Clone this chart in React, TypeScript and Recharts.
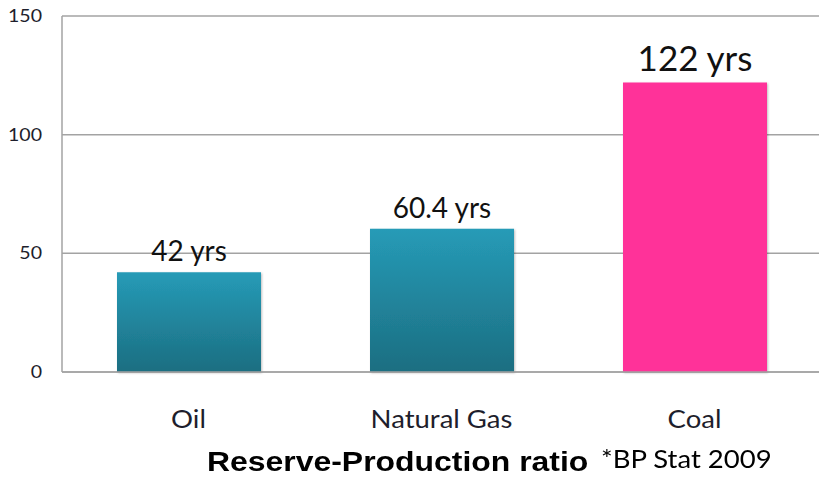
import { BarChart, Bar, XAxis, YAxis, CartesianGrid, Cell, LabelList } from 'recharts'

// ─── Datos ────────────────────────────────────────────────────────────────────

const FUELS = ['Oil', 'Natural Gas', 'Coal']
const RP_YEARS = [42, 60.4, 122]
const BAR_LABELS = ['42 yrs', '60.4 yrs', '122 yrs']
const Y_TICKS = [0, 50, 100, 150]

const data = FUELS.map((f, i) => ({ fuel: f, years: RP_YEARS[i], label: BAR_LABELS[i] }))

// ─── Estilos ──────────────────────────────────────────────────────────────────

const GRID = '#a3a3a3'
const TEXT = '#1e1e2c'
const SANS = 'Lato, "Open Sans", sans-serif'
const LABEL_SIZE = [28, 28, 35]

function BarLabel(props: any) {
  const { x, y, width, index, value } = props
  return (
    <text
      x={x + width / 2}
      y={y - 11}
      textAnchor="middle"
      fontFamily={SANS}
      fontSize={LABEL_SIZE[index]}
      fill="#111"
    >
      {value}
    </text>
  )
}

// ticks un poco estirados en horizontal, como en la imagen original
function YTick({ x, y, payload }: any) {
  return (
    <text
      transform={`translate(${x},${y}) scale(1.15,1)`}
      textAnchor="end"
      dy="0.36em"
      fontFamily={SANS}
      fontSize={17}
      fill={TEXT}
    >
      {payload.value}
    </text>
  )
}

function XTick({ x, y, payload }: any) {
  return (
    <text
      transform={`translate(${x},${y + 56}) scale(1.1,1)`}
      textAnchor="middle"
      fontFamily={SANS}
      fontSize={25}
      fill={TEXT}
    >
      {payload.value}
    </text>
  )
}

export default function App() {
  return (
    <div style={{ position: 'absolute', left: 0, top: 0, width: 819, height: 477, overflow: 'hidden', background: '#fff' }}>
      <BarChart
        width={821}
        height={440}
        data={data}
        margin={{ top: 16, right: 0, left: 0, bottom: 0 }}
        barSize={144}
      >
        <defs>
          <linearGradient id="teal" x1="0" y1="0" x2="0" y2="1">
            <stop offset="0%" stopColor="#269bb7" />
            <stop offset="100%" stopColor="#1c6e81" />
          </linearGradient>
          <filter id="shadow" x="-5%" y="-5%" width="110%" height="110%">
            <feDropShadow dx="1" dy="1" stdDeviation="1.2" floodColor="#000" floodOpacity="0.25" />
          </filter>
        </defs>
        <CartesianGrid vertical={false} stroke={GRID} strokeWidth={1.5} />
        <XAxis
          dataKey="fuel"
          height={68}
          axisLine={{ stroke: GRID, strokeWidth: 1.5 }}
          tickLine={false}
          tickSize={0}
          tickMargin={0}
          tick={<XTick />}
        />
        <YAxis
          width={62}
          domain={[0, 150]}
          ticks={Y_TICKS}
          axisLine={{ stroke: GRID, strokeWidth: 1.5 }}
          tickLine={false}
          tickSize={0}
          tickMargin={20}
          tick={<YTick />}
        />
        <Bar dataKey="years" isAnimationActive={false} filter="url(#shadow)">
          {data.map((d, i) => (
            <Cell key={d.fuel} fill={i === 2 ? '#ff3399' : 'url(#teal)'} />
          ))}
          <LabelList dataKey="label" content={<BarLabel />} />
        </Bar>
      </BarChart>

      <div
        style={{
          position: 'absolute', left: 207, top: 446,
          fontFamily: '"Liberation Sans", Arial, sans-serif', fontWeight: 700, fontSize: 28,
          color: '#000', whiteSpace: 'nowrap', lineHeight: '32px',
          transform: 'scaleX(1.14)', transformOrigin: 'left center',
        }}
      >
        Reserve-Production ratio
      </div>
      <div
        style={{
          position: 'absolute', left: 601, top: 443,
          fontFamily: SANS, fontSize: 25, color: '#000', whiteSpace: 'nowrap', lineHeight: '30px',
          transform: 'scaleX(1.1)', transformOrigin: 'left center',
        }}
      >
        *BP Stat 2009
      </div>
    </div>
  )
}
